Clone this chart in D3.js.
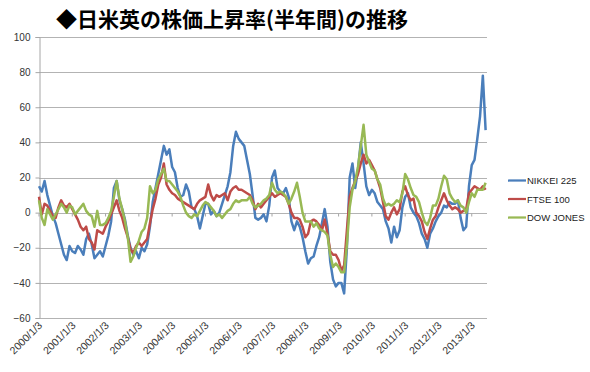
<!DOCTYPE html>
<html>
<head>
<meta charset="utf-8">
<script src="https://cdn.jsdelivr.net/npm/d3@7"></script>
<style>
  body { margin: 0; background: white; }
  svg { display: block; }
</style>
</head>
<body>
<svg></svg>
<script>
// half-year change (%), one value per month from 2000/1
const nikkei = [15,12,18,10,4,-2,-6,-12,-18,-24,
  -27,-19,-22,-23,-19,-21,-24,-15,-12,-18,
  -26,-24,-22,-25,-19,-13,-5,14,18,7,
  2,-4,-13,-20,-24,-22,-26,-20,-22,-18,
  -8,6,14,22,30,38,33,36,26,23,
  14,9,10,16,12,3,2,-2,-9,-2,
  5,5,-1,1,-2,0,5,10,15,23,
  38,46,42,40,38,30,22,10,-3,-4,
  -3,-1,-5,4,20,24,14,12,11,14,
  9,-5,-10,-5,-8,-14,-22,-29,-26,-25,
  -19,-14,-6,2,-8,-28,-38,-42,-40,-40,
  -46,-20,20,28,14,25,40,28,15,10,
  13,11,6,4,2,-5,-9,-17,-8,-14,
  -10,3,9,11,3,0,-2,-6,-12,-15,
  -20,-12,-9,-5,-2,0,4,3,6,5,
  5,7,-3,-10,-8,15,27,30,42,55,
  78,47];

const ftse = [9,-1,5,4,1,-2,-3,3,7,4,
  3,5,2,-1,-4,-8,-10,-8,-15,-17,
  -21,-10,-11,-12,-8,-5,-1,3,7,1,
  -3,-9,-14,-21,-23,-19,-17,-19,-17,-15,
  -6,2,8,16,20,28,16,13,11,10,
  8,7,6,5,4,3,2,5,7,8,
  9,16,10,7,10,9,10,11,7,12,
  14,15,13,13,12,11,10,7,2,5,
  3,5,7,9,11,9,10,11,10,9,
  5,0,-3,-3,-4,-8,-14,-12,-5,-4,
  -5,-7,-10,-4,-12,-22,-24,-24,-27,-33,
  -30,-10,9,14,18,22,28,33,28,30,
  27,24,19,14,6,-2,-4,0,3,-1,
  2,12,15,10,7,8,0,-2,-5,-11,
  -15,-9,-4,-2,3,7,11,7,4,2,
  3,2,0,1,2,11,13,15,14,13,
  15,13];

const dow = [7,-3,-7,2,-1,-4,-1,2,5,3,
  0,4,3,-1,1,3,5,1,-1,-2,
  -8,1,-7,-7,-6,-3,1,9,18,8,
  2,-5,-14,-28,-25,-20,-16,-11,-9,-3,
  15,11,13,19,22,25,18,18,16,14,
  12,9,4,0,-2,-3,-1,-2,1,4,
  6,5,3,1,-2,-1,-3,-1,1,2,
  5,7,6,7,7,7,9,5,3,4,
  5,7,8,10,17,13,11,12,11,9,
  5,8,12,17,9,0,-5,-5,-5,-8,
  -6,-9,-10,-11,-13,-24,-31,-29,-31,-34,
  -34,-18,3,13,18,26,38,50,33,29,
  25,24,19,16,8,4,5,4,5,7,
  6,11,22,19,14,10,9,6,0,-5,
  -7,-3,4,4,8,15,21,19,11,8,
  6,7,4,3,0,6,11,9,13,13,
  13,17];

const seriesNames = ["NIKKEI 225", "FTSE 100", "DOW JONES"];
const seriesColors = ["#4a7ebb", "#be4b48", "#98b954"];
const yearLabels = ["2000/1/3","2001/1/3","2002/1/3","2003/1/3","2004/1/3","2005/1/3","2006/1/3",
  "2007/1/3","2008/1/3","2009/1/3","2010/1/3","2011/1/3","2012/1/3","2013/1/3"];
const yTicks = [-60, -40, -20, 0, 20, 40, 60, 80, 100];

const w = 590, h = 372;
const svg = d3.select("svg").attr("width", w).attr("height", h);

const plotL = 39, plotR = 487, plotT = 37, plotB = 318;

const x = d3.scaleLinear().domain([0, 161.5]).range([plotL, plotR]);
const y = d3.scaleLinear().domain([-60, 100]).range([plotB, plotT]);

// title
svg.append("text")
    .attr("x", 232)
    .attr("y", 27)
    .attr("text-anchor", "middle")
    .attr("font-family", "'Noto Sans CJK JP', sans-serif")
    .attr("font-weight", "bold")
    .attr("font-size", 21)
    .attr("fill", "#000")
    .text("◆日米英の株価上昇率(半年間)の推移");

// gridlines
svg.append("g")
    .selectAll("line")
    .data(yTicks)
    .join("line")
    .attr("x1", plotL).attr("x2", plotR)
    .attr("y1", d => Math.round(y(d)) + 0.5)
    .attr("y2", d => Math.round(y(d)) + 0.5)
    .attr("stroke", "#b3b3b3")
    .attr("stroke-width", 1);

// y axis
const yAxis = svg.append("g")
    .attr("transform", `translate(${plotL + 0.5},0)`)
    .call(d3.axisLeft(y).tickValues(yTicks).tickSize(4).tickPadding(5));
yAxis.select(".domain").attr("stroke", "#a6a6a6");
yAxis.selectAll(".tick line").attr("stroke", "#a6a6a6");
yAxis.selectAll(".tick text")
    .attr("font-family", "'Liberation Sans', Arial, sans-serif")
    .attr("font-size", 10)
    .attr("fill", "#333");

// category axis sits on the zero line, labels at the bottom
const yearIdx = yearLabels.map((d, i) => i * 12);
const zeroY = Math.round(y(0)) + 0.5;
svg.append("g")
    .selectAll("line")
    .data(yearIdx)
    .join("line")
    .attr("x1", d => x(d)).attr("x2", d => x(d))
    .attr("y1", zeroY).attr("y2", zeroY + 3)
    .attr("stroke", "#a6a6a6");

svg.append("g")
    .selectAll("text")
    .data(yearLabels)
    .join("text")
    .attr("transform", (d, i) => `translate(${x(yearIdx[i]) + 4},${plotB + 8}) rotate(-45)`)
    .attr("text-anchor", "end")
    .attr("font-family", "'Liberation Sans', Arial, sans-serif")
    .attr("font-size", 10.5)
    .attr("fill", "#333")
    .text(d => d);

// series
const line = d3.line()
    .x((d, i) => x(i))
    .y(d => y(d));

const allSeries = [nikkei, ftse, dow];
svg.append("g")
    .selectAll("path")
    .data(allSeries)
    .join("path")
    .attr("d", line)
    .attr("fill", "none")
    .attr("stroke", (d, i) => seriesColors[i])
    .attr("stroke-width", 2.5)
    .attr("stroke-linejoin", "round");

// legend
const legend = svg.append("g")
    .selectAll("g")
    .data(seriesNames)
    .join("g")
    .attr("transform", (d, i) => `translate(508,${180.5 + i * 18.5})`);

legend.append("line")
    .attr("x1", 0).attr("x2", 18)
    .attr("stroke", (d, i) => seriesColors[i])
    .attr("stroke-width", 2.25);

legend.append("text")
    .attr("x", 19)
    .attr("y", 3.5)
    .attr("font-family", "'Liberation Sans', Arial, sans-serif")
    .attr("font-size", 9.5)
    .attr("fill", "#222")
    .text(d => d);
</script>
</body>
</html>
